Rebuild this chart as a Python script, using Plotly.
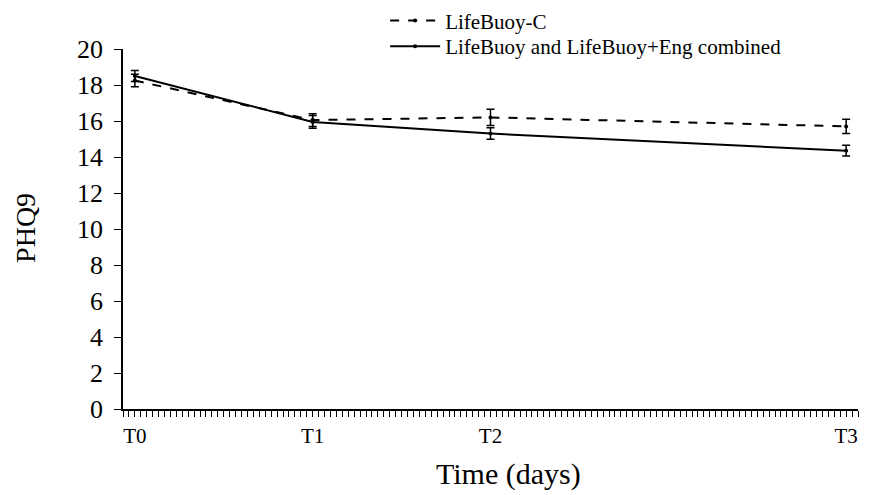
import plotly.graph_objects as go

days = [0, 30, 60, 120]
tick_labels = ["T0", "T1", "T2", "T3"]

c_name = "LifeBuoy-C"
c_values = [18.25, 16.05, 16.2, 15.7]
c_err = [0.35, 0.35, 0.45, 0.4]

comb_name = "LifeBuoy and LifeBuoy+Eng combined"
comb_values = [18.5, 15.95, 15.3, 14.35]
comb_err = [0.3, 0.35, 0.32, 0.3]

font_family = "Liberation Serif"

fig = go.Figure()
fig.add_trace(go.Scatter(
    x=days, y=c_values, name=c_name, mode="lines+markers", legend="legend",
    line=dict(color="black", width=2, dash="dash"),
    marker=dict(size=4, color="black"),
    error_y=dict(type="data", array=c_err, color="black", thickness=1.5, width=4),
))
fig.add_trace(go.Scatter(
    x=days, y=comb_values, name=comb_name, mode="lines+markers", legend="legend2",
    line=dict(color="black", width=2),
    marker=dict(size=4, color="black"),
    error_y=dict(type="data", array=comb_err, color="black", thickness=1.5, width=4),
))

legend_common = dict(xref="container", yref="container", x=0.432,
                     xanchor="left", yanchor="middle",
                     font=dict(size=21, family=font_family), bgcolor="rgba(0,0,0,0)",
                     itemwidth=50)

fig.update_layout(
    width=873, height=495,
    margin=dict(l=115, r=23, t=41, b=94, autoexpand=False),
    paper_bgcolor="white", plot_bgcolor="white",
    font=dict(family=font_family, color="black"),
    showlegend=True,
    legend=dict(y=0.974, **legend_common),
    legend2=dict(y=0.922, **legend_common),
    xaxis=dict(
        range=[-2, 122], tickmode="array", tickvals=days, ticktext=tick_labels,
        ticks="outside", ticklen=6, tickwidth=1, tickcolor="black",
        showline=True, linecolor="black", linewidth=1.5,
        showgrid=False, zeroline=False, automargin=False,
        tickfont=dict(size=21, family=font_family), ticklabelstandoff=1,
        minor=dict(dtick=1, tick0=0, ticks="outside", ticklen=6, tickwidth=1,
                   tickcolor="black", showgrid=False),
    ),
    yaxis=dict(
        range=[0, 20], dtick=2, ticks="outside", ticklen=7, tickwidth=1, tickcolor="black",
        showline=True, linecolor="black", linewidth=1.5,
        showgrid=False, zeroline=False, automargin=False,
        tickfont=dict(size=26, family=font_family), ticklabelstandoff=6,
    ),
    annotations=[
        dict(text="PHQ9", xref="paper", yref="paper", x=-0.132, y=0.503,
             xanchor="center", yanchor="middle", showarrow=False, textangle=-90,
             font=dict(size=28, family=font_family, color="black")),
        dict(text="Time (days)", xref="paper", yref="paper", x=0.525, y=-0.18,
             xanchor="center", yanchor="middle", showarrow=False,
             font=dict(size=30, family=font_family, color="black")),
    ],
)

fig.write_html("out.html")
